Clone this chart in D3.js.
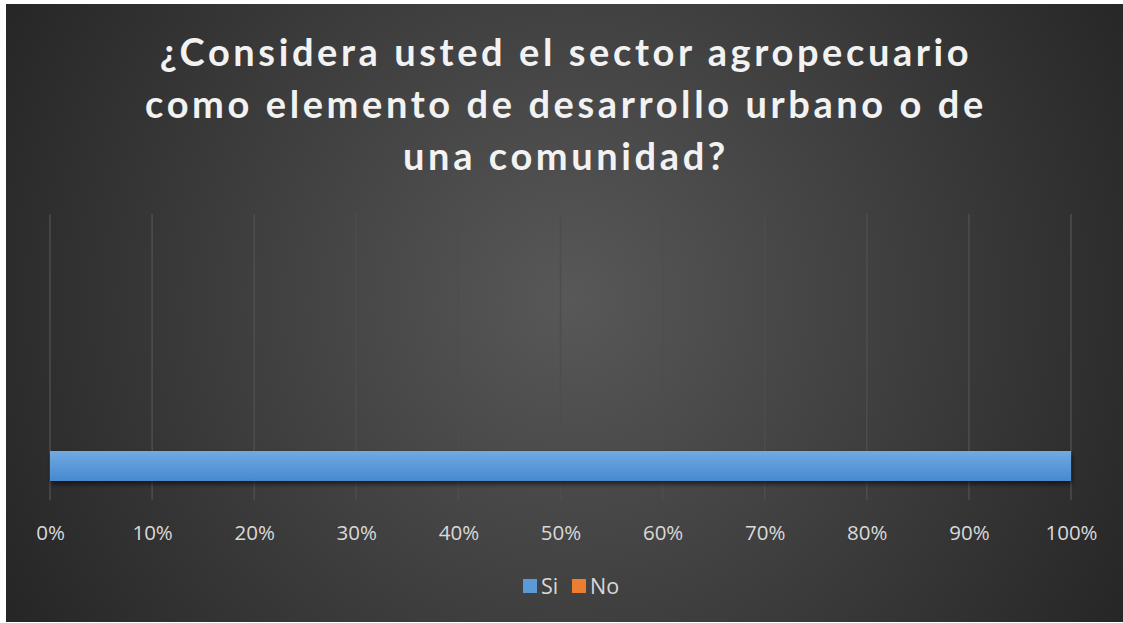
<!DOCTYPE html>
<html>
<head>
<meta charset="utf-8">
<script src="https://cdn.jsdelivr.net/npm/d3@7"></script>
<style>
  html, body { margin: 0; padding: 0; background: #ffffff; }
  svg { display: block; }
</style>
</head>
<body>
<svg id="chart" width="1123" height="623"></svg>
<script>
// Datos del gráfico
const titleLines = [
  "¿Considera usted el sector agropecuario",
  "como elemento de desarrollo urbano o de",
  "una comunidad?"
];
const categories = ["Respuesta"];
const seriesNames = ["Si", "No"];
const seriesValues = [[1.0], [0.0]];
const seriesColors = ["#5b9bd5", "#ed7d31"];
const tickValues = [0, 0.1, 0.2, 0.3, 0.4, 0.5, 0.6, 0.7, 0.8, 0.9, 1.0];

const W = 1123, H = 623;
const frame = { x: 6, y: 4, w: W - 6, h: H - 4 - 1 };
const margin = { left: 50, right: W - 1071, top: 214, bottom: H - 500 };

const svg = d3.select("#chart");
const defs = svg.append("defs");

/*
* Sfondo con gradiente radiale scuro
*/
const bg = defs.append("radialGradient")
  .attr("id", "bgGrad")
  .attr("gradientUnits", "userSpaceOnUse")
  .attr("cx", 570).attr("cy", 300).attr("r", 640);
bg.append("stop").attr("offset", "0%").attr("stop-color", "#585858");
bg.append("stop").attr("offset", "100%").attr("stop-color", "#262626");

const barGrad = defs.append("linearGradient")
  .attr("id", "barGrad").attr("x1", 0).attr("y1", 0).attr("x2", 0).attr("y2", 1);
barGrad.append("stop").attr("offset", "0%").attr("stop-color", "#72aae2");
barGrad.append("stop").attr("offset", "100%").attr("stop-color", "#4689d1");

const shadow = defs.append("filter").attr("id", "shadow")
  .attr("x", "-5%").attr("y", "-50%").attr("width", "110%").attr("height", "200%");
shadow.append("feDropShadow")
  .attr("dx", 1).attr("dy", 3).attr("stdDeviation", 2.5)
  .attr("flood-color", "#000").attr("flood-opacity", 0.6);

svg.append("rect")
  .attr("x", frame.x).attr("y", frame.y)
  .attr("width", frame.w).attr("height", frame.h)
  .attr("fill", "url(#bgGrad)");

// Titolo
svg.append("g")
  .selectAll("text")
  .data(titleLines)
  .enter()
  .append("text")
  .attr("x", 566)
  .attr("y", (d, i) => 66 + i * 52)
  .attr("text-anchor", "middle")
  .attr("fill", "#f2f2f2")
  .style("font-family", "Lato, sans-serif")
  .style("font-weight", 700)
  .style("font-size", "38px")
  .style("letter-spacing", "3.6px")
  .text(d => d);

/*
* Scale e assi
*/
const x = d3.scaleLinear()
  .domain([0, 1])
  .range([margin.left, W - margin.right]);

const y = d3.scaleBand()
  .domain(categories)
  .range([margin.top, H - margin.bottom])
  .paddingInner(0)
  .paddingOuter(0);

// Griglia verticale
svg.append("g")
  .selectAll("line")
  .data(tickValues)
  .enter()
  .append("line")
  .attr("x1", d => x(d)).attr("x2", d => x(d))
  .attr("y1", margin.top).attr("y2", H - margin.bottom)
  .style("stroke", "#4d4d4d")
  .style("stroke-width", 1.5);

// Barre impilate
const stackData = categories.map((c, ci) => {
  const row = { cat: c };
  seriesNames.forEach((s, si) => { row[s] = seriesValues[si][ci]; });
  return row;
});
const stacked = d3.stack().keys(seriesNames)(stackData);

const barH = 30;
const barY = 451;

svg.append("g")
  .selectAll("g")
  .data(stacked)
  .enter()
  .append("g")
  .attr("fill", (d, i) => i === 0 ? "url(#barGrad)" : seriesColors[i])
  .selectAll("rect")
  .data(d => d)
  .enter()
  .append("rect")
  .attr("x", d => x(d[0]))
  .attr("y", barY)
  .attr("width", d => Math.max(0, x(d[1]) - x(d[0])))
  .attr("height", barH)
  .attr("filter", "url(#shadow)");

// Etichette asse x
const axis = svg.append("g")
  .attr("transform", `translate(0, 533)`)
  .call(d3.axisBottom(x).tickValues(tickValues).tickFormat(d3.format(".0%")).tickSize(0));
axis.select(".domain").remove();
axis.selectAll("text")
  .attr("fill", "#d9d9d9")
  .style("font-family", "'Open Sans', sans-serif")
  .style("font-size", "20.5px")
  .attr("dy", "0.35em")
  .attr("y", 0);

/*
* Legenda
*/
const legend = svg.append("g").attr("transform", "translate(523, 586)");
const legendX = [0, 49];
seriesNames.forEach((s, i) => {
  const g = legend.append("g").attr("transform", `translate(${legendX[i]}, 0)`);
  g.append("rect")
    .attr("x", 0).attr("y", -7)
    .attr("width", 14).attr("height", 14)
    .attr("fill", seriesColors[i]);
  g.append("text")
    .attr("x", 18).attr("y", 0)
    .attr("dy", "0.35em")
    .attr("fill", "#d9d9d9")
    .style("font-family", "'Open Sans', sans-serif")
    .style("font-size", "21.5px")
    .text(s);
});
</script>
</body>
</html>
